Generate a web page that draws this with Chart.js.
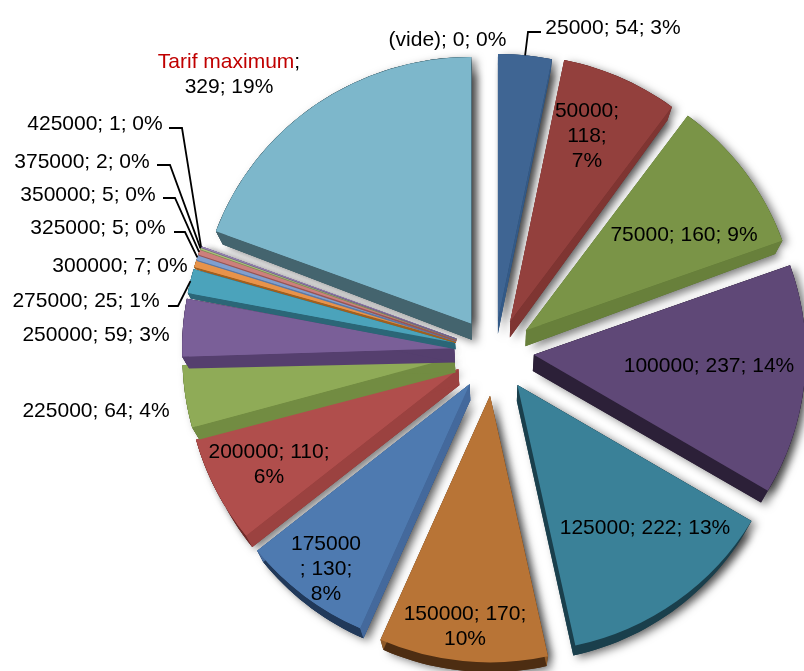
<!DOCTYPE html>
<html>
<head>
<meta charset="utf-8">
<style>html,body{margin:0;padding:0;background:#fff}canvas{display:block}</style>
<script src="https://cdn.jsdelivr.net/npm/chart.js@4"></script>
</head>
<body>
<canvas id="c" width="804" height="671"></canvas>
<script>
const categories = ['(vide)','25000','50000','75000','100000','125000','150000','175000','200000','225000','250000','275000','300000','325000','350000','375000','425000','Tarif maximum'];
const counts = [0,54,118,160,237,222,170,130,110,64,59,25,7,5,5,2,1,329];
const percents = [0,3,7,9,14,13,10,8,6,4,3,1,0,0,0,0,0,19];

const topColors = ['#888888','#3f6593','#93403d','#7a9447','#5f4877','#3a8198','#b87436','#4e7ab0','#b04e4c','#8fab57','#7a5f98','#4ba3bb','#e8934a','#7f9fcf','#cc7f7c','#a9c477','#9a86b8','#7db7cb'];
const radialColors = ['#666666','#335a88','#7f3532','#68803b','#2c2038','#1a3f4c','#8f5a28','#44699c','#9b4240','#728c42','#553f6e','#2b6677','#a0601f','#5b78a5','#995553','#7d9255','#725f8c','#44646e'];
const rimColors = ['#555555','#284566','#6a2a28','#556b30','#2c2038','#1a3f4c','#4d2d12','#21395a','#6e2b29','#5f7537','#453358','#235563','#8a501a','#4b6389','#7f4644','#6a7d47','#5f4f75','#3a5660'];

// label layout: text lines, centre x, first baseline y, optional leader elbow
const labelLines = [
  ['(vide); 0; 0%'],['25000; 54; 3%'],['50000;','118;','7%'],['75000; 160; 9%'],['100000; 237; 14%'],
  ['125000; 222; 13%'],['150000; 170;','10%'],['175000','; 130;','8%'],['200000; 110;','6%'],
  ['225000; 64; 4%'],['250000; 59; 3%'],['275000; 25; 1%'],['300000; 7; 0%'],['325000; 5; 0%'],
  ['350000; 5; 0%'],['375000; 2; 0%'],['425000; 1; 0%'],['Tarif maximum;','329; 19%']
];
const labelX = [447.5,613,587,684,709,645,465,326,269,96,96,86,120,98,88,82,95,229];
const labelY = [46,34,117,241,372,534,620,550,458,417,341,307,272,234,201,168,130,68];
const leaderFrom = {1:[541,32,528,32],11:[168,306,178,306],13:[174,232,185,232],14:[163,198,175,198],15:[157,165,170,165],16:[169,128,182,128]};

const EXPLODE_X = 40, EXPLODE_Y = 38.6, TILT_LIFT = 8, SY = 0.98, FONT = '21px "Liberation Sans", Arial, sans-serif';
const FIRST_STACKED = 7; // from this slice on, each slice's sides overlap the previous slice's top

function depthFactor(a) {
  const deg = (a.endAngle - a.startAngle) * 180 / Math.PI;
  return Math.min(1, deg / 15 + 0.05);
}
function depth(x, y, cx, cy, f) {
  const r = Math.hypot(x - cx, y - cy);
  return [x - f * 0.025 * (x - cx), y + f * (17 - 0.011 * r - Math.max(0, y - cy) * 0.012)];
}
function outline(a) {
  const pts = [];
  const n = Math.max(2, Math.ceil((a.endAngle - a.startAngle) / 0.03));
  for (let i = 0; i <= n; i++) {
    const t = a.startAngle + (a.endAngle - a.startAngle) * i / n;
    pts.push([a.x + Math.cos(t) * a.outerRadius, a.y + Math.sin(t) * a.outerRadius]);
  }
  return pts;
}
function poly(ctx, pts) {
  ctx.beginPath();
  pts.forEach((p, i) => i ? ctx.lineTo(p[0], p[1]) : ctx.moveTo(p[0], p[1]));
  ctx.closePath();
}
function drawSides(ctx, a, i, cx, cy) {
  const rim = outline(a);
  const f = depthFactor(a);
  const d = p => depth(p[0], p[1], cx, cy, f);
  const apex = [a.x, a.y];
  ctx.fillStyle = rimColors[i];
  poly(ctx, [...rim, ...rim.map(d).reverse()]); ctx.fill();
  ctx.fillStyle = radialColors[i];
  [rim[0], rim[rim.length - 1]].forEach(p => {
    poly(ctx, [apex, p, d(p), d(apex)]); ctx.fill();
  });
}

const pie3d = {
  id: 'pie3d',
  afterDatasetsUpdate(chart) {
    chart.getDatasetMeta(0).data.forEach(a => {
      if (a._moved) return;
      const mid = (a.startAngle + a.endAngle) / 2;
      a.x += Math.cos(mid) * EXPLODE_X;
      a.y += Math.sin(mid) * EXPLODE_Y - Math.abs(Math.cos(mid)) * TILT_LIFT;
      a._moved = true;
    });
  },
  beforeDatasetsDraw(chart) {
    const ctx = chart.ctx, arcs = chart.getDatasetMeta(0).data;
    const area = chart.chartArea;
    const cx = (area.left + area.right) / 2, cy = (area.top + area.bottom) / 2;
    ctx.save();
    ctx.translate(cx, cy); ctx.scale(1, SY); ctx.translate(-cx, -cy);
    // soft drop shadow
    arcs.forEach((a, i) => {
      if (a.circumference === 0) return;
      const rim = outline(a);
      const f = depthFactor(a);
      const d = p => depth(p[0], p[1], cx, cy, f);
      ctx.save();
      ctx.shadowColor = 'rgba(0,0,0,0.5)';
      ctx.shadowBlur = 8; ctx.shadowOffsetX = 5; ctx.shadowOffsetY = 3;
      ctx.fillStyle = rimColors[i];
      poly(ctx, [[a.x, a.y], ...rim]); ctx.fill();
      poly(ctx, [d([a.x, a.y]), ...rim.map(d)]); ctx.fill();
      ctx.restore();
    });
    // side faces
    arcs.forEach((a, i) => {
      if (a.circumference === 0) return;
      drawSides(ctx, a, i, cx, cy);
    });
  },
  afterDatasetsDraw(chart) {
    const ctx = chart.ctx, arcs = chart.getDatasetMeta(0).data;
    const area = chart.chartArea;
    const cx = (area.left + area.right) / 2, cy = (area.top + area.bottom) / 2;
    // left-hand slices stack upward: repaint each with sides over the previous top
    arcs.forEach((a, i) => {
      if (i < FIRST_STACKED || a.circumference === 0) return;
      drawSides(ctx, a, i, cx, cy);
      a.draw(ctx);
    });
    ctx.restore();
  },
  afterDraw(chart) {
    const ctx = chart.ctx, arcs = chart.getDatasetMeta(0).data;
    const area = chart.chartArea;
    const cy = (area.top + area.bottom) / 2;
    ctx.save();
    ctx.strokeStyle = '#000'; ctx.lineWidth = 1.8; ctx.lineJoin = 'miter';
    Object.keys(leaderFrom).forEach(k => {
      const a = arcs[k], f = leaderFrom[k];
      const mid = (a.startAngle + a.endAngle) / 2;
      const ex = a.x + Math.cos(mid) * a.outerRadius;
      const ey = cy + (a.y + Math.sin(mid) * a.outerRadius - cy) * SY;
      ctx.beginPath(); ctx.moveTo(f[0], f[1]); ctx.lineTo(f[2], f[3]); ctx.lineTo(ex, ey); ctx.stroke();
    });
    ctx.font = FONT; ctx.textBaseline = 'alphabetic'; ctx.textAlign = 'left'; ctx.fillStyle = '#000';
    labelLines.forEach((lines, i) => {
      lines.forEach((t, j) => {
        const y = labelY[i] + j * 25;
        const w = ctx.measureText(t).width;
        let x = labelX[i] - w / 2;
        if (t === 'Tarif maximum;') {
          const name = categories[i];
          ctx.fillStyle = '#c00000';
          ctx.fillText(name, x, y);
          x += ctx.measureText(name).width;
          ctx.fillStyle = '#000';
          ctx.fillText(';', x, y);
        } else {
          ctx.fillText(t, x, y);
        }
      });
    });
    ctx.restore();
  }
};

new Chart(document.getElementById('c'), {
  type: 'pie',
  data: {
    labels: categories,
    datasets: [{ data: counts, backgroundColor: topColors, borderWidth: 0, clip: false }]
  },
  options: {
    responsive: false,
    animation: false,
    radius: 272,
    layout: { padding: { left: 184, top: 47, right: 0, bottom: 0 } },
    plugins: { legend: { display: false }, tooltip: { enabled: false } }
  },
  plugins: [pie3d]
});
</script>
</body>
</html>
